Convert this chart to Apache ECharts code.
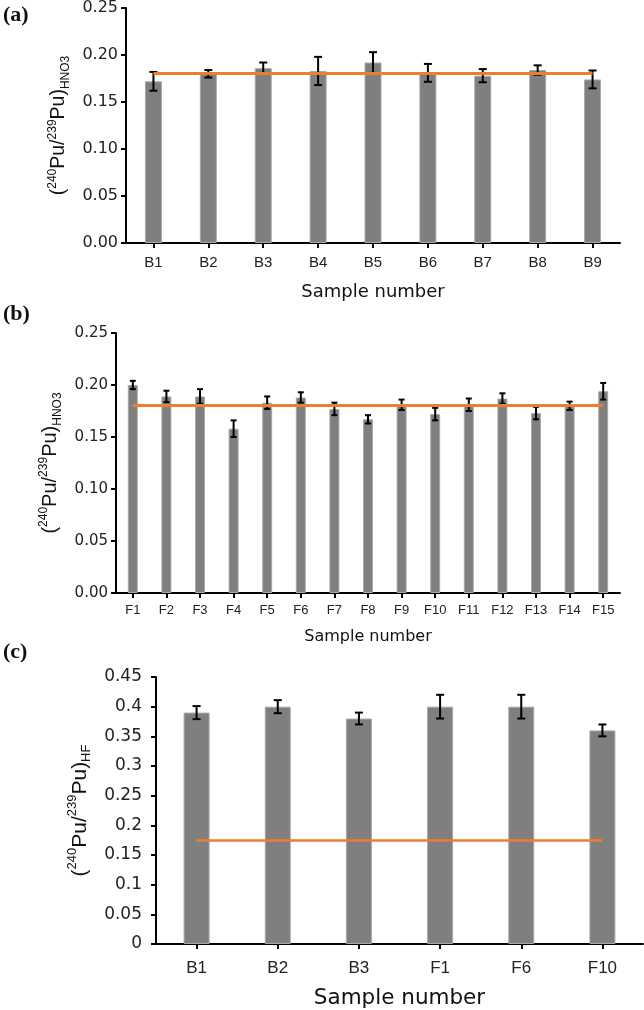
<!DOCTYPE html>
<html><head><meta charset="utf-8">
<script src="https://cdn.jsdelivr.net/npm/echarts@6/dist/echarts.min.js"></script>
<style>html,body{margin:0;padding:0;background:#fff}#c{width:644px;height:1010px}</style>
</head><body><div id="c"></div>
<script>
// ---- Data ----
const catsA = ['B1','B2','B3','B4','B5','B6','B7','B8','B9'];
const valsA = [0.172,0.180,0.186,0.183,0.192,0.181,0.178,0.184,0.174];
const errA  = [0.010,0.004,0.006,0.015,0.011,0.0095,0.007,0.005,0.0095];
const meanA = 0.181;

const catsB = ['F1','F2','F3','F4','F5','F6','F7','F8','F9','F10','F11','F12','F13','F14','F15'];
const valsB = [0.200,0.189,0.189,0.158,0.183,0.188,0.177,0.167,0.181,0.172,0.181,0.187,0.173,0.180,0.194];
const errB  = [0.004,0.0055,0.007,0.008,0.006,0.005,0.006,0.004,0.005,0.006,0.006,0.005,0.006,0.004,0.008];
const meanB = 0.181;

const catsC = ['B1','B2','B3','F1','F6','F10'];
const valsC = [0.39,0.40,0.38,0.40,0.40,0.36];
const errC  = [0.011,0.011,0.010,0.020,0.020,0.010];
const meanC = 0.175;

const ticksAB = {min:0, max:0.25, interval:0.05};
const ticksC  = {min:0, max:0.45, interval:0.05};

// ---- Chart ----
const FONT = 'Liberation Sans, Arial, sans-serif';
const WIDE = 'DejaVu Sans, Verdana, sans-serif';
const chart = echarts.init(document.getElementById('c'), null, {renderer:'canvas'});

const panels = [
  {cats:catsA, vals:valsA, err:errA, mean:meanA, ticks:ticksAB, fmt:v=>v.toFixed(2),
   grid:{left:126, top:6, width:494, height:237}, barW:17, cap:8,
   tickFont:16, xFont:15, xMargin:12, yMargin:8, nameFont:18, nameGap:40,
   yName:'{p|(}{sup|240}{p|Pu/}{sup|239}{p|Pu)}{sub|HNO3}', yNameFont:19.5, yNameGap:42, lineW:3},
  {cats:catsB, vals:valsB, err:errB, mean:meanB, ticks:ticksAB, fmt:v=>v.toFixed(2),
   grid:{left:116, top:333, width:504, height:260}, barW:10, cap:6,
   tickFont:15, xFont:13, xMargin:11, yMargin:8, nameFont:16, nameGap:36,
   yName:'{p|(}{sup|240}{p|Pu/}{sup|239}{p|Pu)}{sub|HNO3}', yNameFont:20, yNameGap:40, lineW:3},
  {cats:catsC, vals:valsC, err:errC, mean:meanC, ticks:ticksC, fmt:v=>String(+v.toFixed(2)),
   grid:{left:156, top:677, width:487, height:267}, barW:26, cap:8,
   tickFont:17, xFont:17, xMargin:16, yMargin:14, nameFont:21.5, nameGap:43,
   yName:'{p|(}{sup|240}{p|Pu/}{sup|239}{p|Pu)}{sub|HF}', yNameFont:21, yNameGap:54, lineW:2.5}
];

const option = {
  animation:false,
  backgroundColor:'#fff',
  grid:[], xAxis:[], yAxis:[], series:[],
  graphic:[
    {type:'text', left:3, top:4, style:{text:'(a)', font:'bold 22px "Liberation Serif", "Times New Roman", serif', fill:'#111'}},
    {type:'text', left:3, top:303, style:{text:'(b)', font:'bold 22px "Liberation Serif", "Times New Roman", serif', fill:'#111'}},
    {type:'text', left:3, top:641, style:{text:'(c)', font:'bold 22px "Liberation Serif", "Times New Roman", serif', fill:'#111'}}
  ]
};

panels.forEach((p, i) => {
  option.grid.push(Object.assign({containLabel:false}, p.grid));
  option.xAxis.push({
    type:'category', gridIndex:i, data:p.cats, boundaryGap:true,
    name:'Sample number', nameLocation:'middle', nameGap:p.nameGap,
    nameTextStyle:{fontFamily:WIDE, fontSize:p.nameFont, color:'#111'},
    axisLine:{show:true, lineStyle:{color:'#000', width:2}},
    axisTick:{show:true, alignWithLabel:true, interval:0, length:5, lineStyle:{color:'#000', width:2}},
    axisLabel:{interval:0, fontFamily:FONT, fontSize:p.xFont, color:'#222', margin:p.xMargin},
    splitLine:{show:false}
  });
  const sz = p.yNameFont;
  option.yAxis.push({
    type:'value', gridIndex:i, min:p.ticks.min, max:p.ticks.max, interval:p.ticks.interval,
    name:p.yName, nameLocation:'middle', nameRotate:90, nameGap:p.yNameGap,
    nameTextStyle:{fontFamily:FONT, color:'#111', rich:{
      p:{fontFamily:FONT, fontSize:sz, color:'#111', lineHeight:Math.round(sz*1.3), verticalAlign:'middle'},
      sup:{fontFamily:FONT, fontSize:Math.round(sz*0.62), color:'#111', lineHeight:Math.round(sz*0.62), verticalAlign:'top'},
      sub:{fontFamily:FONT, fontSize:Math.round(sz*0.62), color:'#111', lineHeight:Math.round(sz*0.62), verticalAlign:'bottom'}
    }},
    axisLine:{show:true, lineStyle:{color:'#000', width:2}},
    axisTick:{show:true, length:5, lineStyle:{color:'#000', width:2}},
    axisLabel:{fontFamily:WIDE, fontSize:p.tickFont, color:'#222', margin:p.yMargin, formatter:p.fmt},
    splitLine:{show:false}
  });
  option.series.push({
    type:'bar', xAxisIndex:i, yAxisIndex:i, data:p.vals, barWidth:p.barW,
    itemStyle:{color:'#7f7f7f', borderColor:'#a8a8a8', borderWidth:1}, z:2, silent:true
  });
  option.series.push({
    type:'custom', xAxisIndex:i, yAxisIndex:i, z:3, silent:true,
    data:p.cats.map((c, k) => [k, p.vals[k], p.err[k]]),
    encode:{x:0, y:1},
    renderItem:(function(cap){ return function(params, api){
      const x = api.value(0), v = api.value(1), e = api.value(2);
      const hi = api.coord([x, v + e]), lo = api.coord([x, v - e]);
      const st = {stroke:'#000', lineWidth:2};
      return {type:'group', children:[
        {type:'line', shape:{x1:hi[0], y1:hi[1], x2:lo[0], y2:lo[1]}, style:st},
        {type:'line', shape:{x1:hi[0]-cap/2, y1:hi[1], x2:hi[0]+cap/2, y2:hi[1]}, style:st},
        {type:'line', shape:{x1:lo[0]-cap/2, y1:lo[1], x2:lo[0]+cap/2, y2:lo[1]}, style:st}
      ]};
    };})(p.cap)
  });
  option.series.push({
    type:'line', xAxisIndex:i, yAxisIndex:i, data:[], z:5, silent:true,
    markLine:{silent:true, symbol:['none','none'], label:{show:false}, animation:false,
      lineStyle:{color:'#ED7D31', width:p.lineW, type:'solid'},
      data:[[{coord:[p.cats[0], p.mean]}, {coord:[p.cats[p.cats.length-1], p.mean]}]]}
  });
});

chart.setOption(option);
</script></body></html>
